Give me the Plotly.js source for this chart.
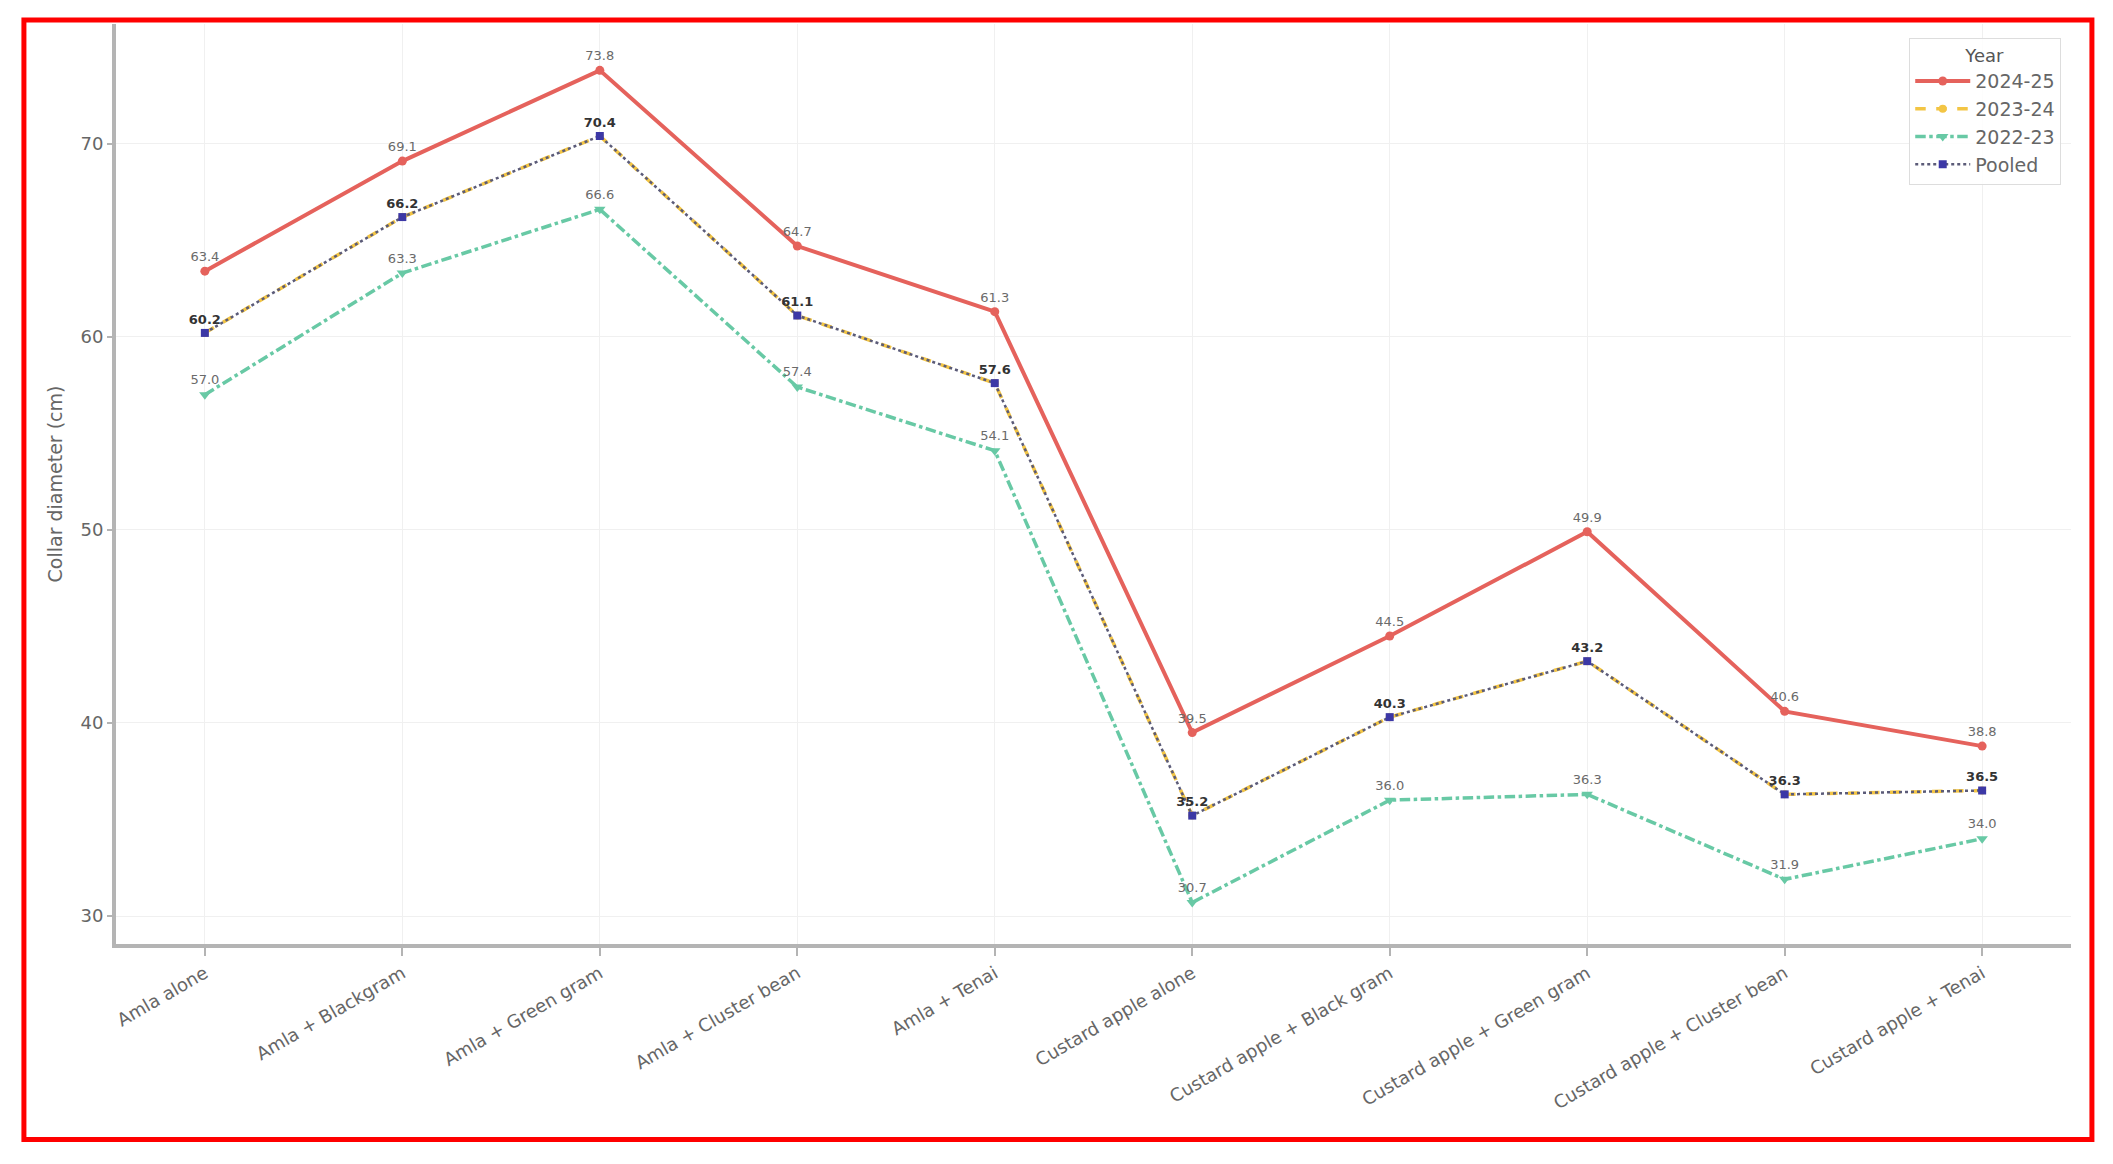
<!DOCTYPE html>
<html>
<head>
<meta charset="utf-8">
<script src="https://cdn.plot.ly/plotly-3.0.1.min.js"></script>
<style>
  html, body { margin: 0; padding: 0; background: #ffffff; }
  #chart { width: 2113px; height: 1164px; }
</style>
</head>
<body>
<div id="chart"></div>
<script>
// ---- data ----
const categories = [
  "Amla alone",
  "Amla + Blackgram",
  "Amla + Green gram",
  "Amla + Cluster bean",
  "Amla + Tenai",
  "Custard apple alone",
  "Custard apple + Black gram",
  "Custard apple + Green gram",
  "Custard apple + Cluster bean",
  "Custard apple + Tenai"
];
const y2024_25 = [63.4, 69.1, 73.8, 64.7, 61.3, 39.5, 44.5, 49.9, 40.6, 38.8];
const y2023_24 = [60.2, 66.2, 70.4, 61.1, 57.6, 35.2, 40.3, 43.2, 36.3, 36.5];
const y2022_23 = [57.0, 63.3, 66.6, 57.4, 54.1, 30.7, 36.0, 36.3, 31.9, 34.0];
const yPooled  = [60.2, 66.2, 70.4, 61.1, 57.6, 35.2, 40.3, 43.2, 36.3, 36.5];
const seriesNames = ["2024-25", "2023-24", "2022-23", "Pooled"];
const yTicks = [30, 40, 50, 60, 70];
const yTitle = "Collar diameter (cm)";
const legendTitle = "Year";

const idx = categories.map((_, i) => i);
const fmt = arr => arr.map(v => v.toFixed(1));
const FONT = "DejaVu Sans, Liberation Sans, sans-serif";

const traces = [
  {
    name: seriesNames[0], x: idx, y: y2024_25, type: "scatter", mode: "lines+markers+text",
    line: { color: "#e5625c", width: 4, dash: "solid" },
    marker: { symbol: "circle", size: 9, color: "#e5625c" },
    text: fmt(y2024_25), textposition: "top center",
    textfont: { family: FONT, size: 13, color: "#6a6a6a" }
  },
  {
    name: seriesNames[1], x: idx, y: y2023_24, type: "scatter", mode: "lines+markers",
    line: { color: "#f3c544", width: 3.5, dash: "dash" },
    marker: { symbol: "circle", size: 8, color: "#f3c544" }
  },
  {
    name: seriesNames[2], x: idx, y: y2022_23, type: "scatter", mode: "lines+markers+text",
    line: { color: "#68c9a5", width: 3.5, dash: "dashdot" },
    marker: { symbol: "triangle-down", size: 10, color: "#68c9a5" },
    text: fmt(y2022_23), textposition: "top center",
    textfont: { family: FONT, size: 13, color: "#6a6a6a" }
  },
  {
    name: seriesNames[3], x: idx, y: yPooled, type: "scatter", mode: "lines+markers+text",
    line: { color: "#5b5b78", width: 2.5, dash: "dot" },
    marker: { symbol: "square", size: 8, color: "#3c38a6" },
    text: fmt(yPooled).map(s => "<b>" + s + "</b>"), textposition: "top center",
    textfont: { family: FONT, size: 13, color: "#333333" }
  }
];

const layout = {
  width: 2113, height: 1164,
  paper_bgcolor: "#ffffff", plot_bgcolor: "#ffffff",
  margin: { l: 116, r: 42, t: 24, b: 220 },
  font: { family: FONT, color: "#555555" },
  showlegend: true,
  xaxis: {
    tickmode: "array", tickvals: idx, ticktext: categories,
    range: [-0.45, categories.length - 1 + 0.45],
    tickangle: -30,
    tickfont: { family: FONT, size: 18, color: "#666666" },
    showgrid: true, gridcolor: "#f0f0f0", gridwidth: 1,
    showline: true, linecolor: "#b4b4b4", linewidth: 4,
    ticks: "outside", ticklen: 8, tickcolor: "#b4b4b4", tickwidth: 1.5,
    zeroline: false, mirror: false
  },
  yaxis: {
    range: [28.55, 76.2],
    tickmode: "array", tickvals: yTicks,
    tickfont: { family: FONT, size: 18, color: "#666666" },
    title: { text: yTitle, font: { family: FONT, size: 19, color: "#666666" }, standoff: 14 },
    showgrid: true, gridcolor: "#f0f0f0", gridwidth: 1,
    showline: true, linecolor: "#b4b4b4", linewidth: 4,
    ticks: "outside", ticklen: 5, tickcolor: "#b4b4b4", tickwidth: 1.5,
    zeroline: false, mirror: false
  },
  legend: {
    x: 0.995, y: 0.985, xanchor: "right", yanchor: "top",
    bgcolor: "rgba(255,255,255,0.85)", bordercolor: "#dddddd", borderwidth: 1,
    font: { family: FONT, size: 19, color: "#666666" },
    title: { text: legendTitle, side: "top center", font: { family: FONT, size: 18, color: "#555555" } },
    tracegroupgap: 8, itemwidth: 55
  },
  shapes: [
    {
      type: "rect", xref: "paper", yref: "paper",
      x0: -0.0471, x1: 1.0107, y0: -0.2125, y1: 1.0043,
      line: { color: "#ff0000", width: 5 }, fillcolor: "rgba(0,0,0,0)", layer: "above"
    }
  ]
};

Plotly.newPlot("chart", traces, layout, { displayModeBar: false, responsive: false });
</script>
</body>
</html>
